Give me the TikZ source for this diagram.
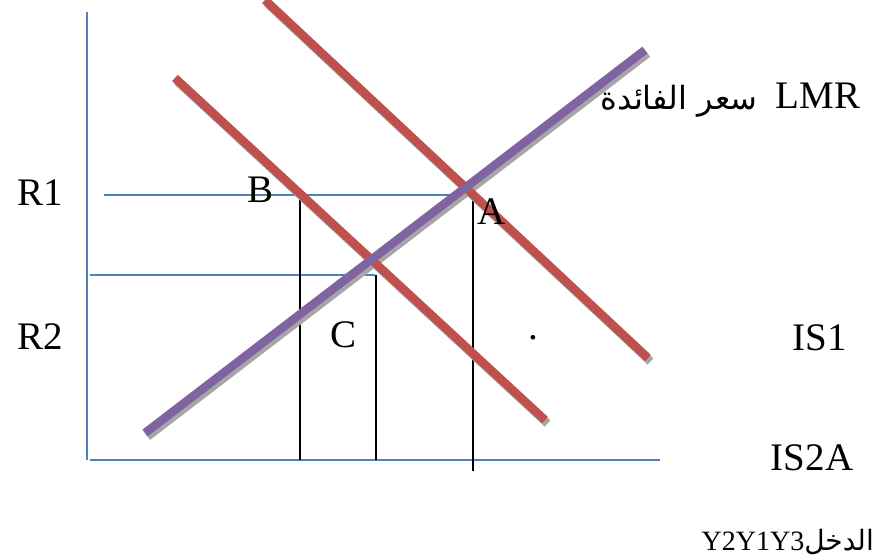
\documentclass[tikz,border=0pt]{standalone}
\usepackage{fontspec}
\setmainfont{Liberation Serif}
\newfontfamily\arabicfont[Script=Arabic]{DejaVu Sans}
\TeXXeTstate=1
\definecolor{isred}{HTML}{C0504D}
\definecolor{lmpurple}{HTML}{8064A2}
\definecolor{axisblue}{HTML}{4F81BD}
\tikzset{
  curveline/.style={line width=8.5pt},
  shadowline/.style={line width=8.5pt, draw=black!35},
  axisline/.style={draw=axisblue, line width=1.3pt},
  levelline/.style={draw=black, line width=1.2pt},
  lbl/.style={font=\fontsize{39}{42}\selectfont, inner sep=0pt},
  smalllbl/.style={font=\fontsize{28}{32}\selectfont, inner sep=0pt}
}
\begin{document}
\begin{tikzpicture}[x=1pt,y=-1pt]
\useasboundingbox (0,0) rectangle (879,560);
% points
\coordinate (o) at (90,460);
\coordinate (ytop) at (87,12);
\coordinate (xend) at (660,460);
\coordinate (is1a) at (265,0);
\coordinate (is1b) at (648,358);
\coordinate (is2a) at (175,78);
\coordinate (is2b) at (545,420);
\coordinate (lma) at (145,433);
\coordinate (lmb) at (645,50);
\coordinate (r1a) at (104,195);
\coordinate (r1b) at (462,195);
\coordinate (r2a) at (90,275);
\coordinate (r2b) at (375,275);
\coordinate (yb1) at (300,197);
\coordinate (yb2) at (300,460);
\coordinate (yc1) at (376,275);
\coordinate (yc2) at (376,460);
\coordinate (ya1) at (473,200);
\coordinate (ya2) at (473,471);
% axes
\draw[axisline] (ytop) -- (87,460);
\draw[axisline] (o) -- (xend);
\draw[axisline] (r1a) -- (r1b);
\draw[axisline] (r2a) -- (r2b);
\draw[levelline] (yb1) -- (yb2);
\draw[levelline] (yc1) -- (yc2);
\draw[levelline] (ya1) -- (ya2);
% curves
\draw[shadowline] ([shift={(2.5,3.5)}]is1a) -- ([shift={(2.5,3.5)}]is1b);
\draw[shadowline] ([shift={(2.5,3.5)}]is2a) -- ([shift={(2.5,3.5)}]is2b);
\draw[shadowline] ([shift={(2.5,3.5)}]lma) -- ([shift={(2.5,3.5)}]lmb);
\draw[curveline, isred] (is1a) -- (is1b);
\draw[curveline, isred] (is2a) -- (is2b);
\draw[curveline, lmpurple] (lma) -- (lmb);
% labels
\node[lbl] (lmr) at (818,96) {LMR};
\node[inner sep=0pt, font=\fontsize{32}{36}\selectfont] (rate) at (679,101) {\arabicfont\beginR سعر الفائدة\endR};
\node[lbl] (r1) at (40,193) {R1};
\node[lbl] (r2) at (40,337) {R2};
\node[lbl] (b) at (261,190) {B};
\node[lbl] (a) at (492,212) {A};
\node[lbl] (c) at (344,335) {C};
\node[lbl] (dot) at (533,338) {.};
\node[lbl] (is1) at (820,338) {IS1};
\node[lbl] (is2) at (812,458) {IS2A};
\node[smalllbl, anchor=east] (inc) at (874,542) {Y2Y1Y3{\arabicfont\beginR الدخل\endR}};
\end{tikzpicture}
\end{document}
